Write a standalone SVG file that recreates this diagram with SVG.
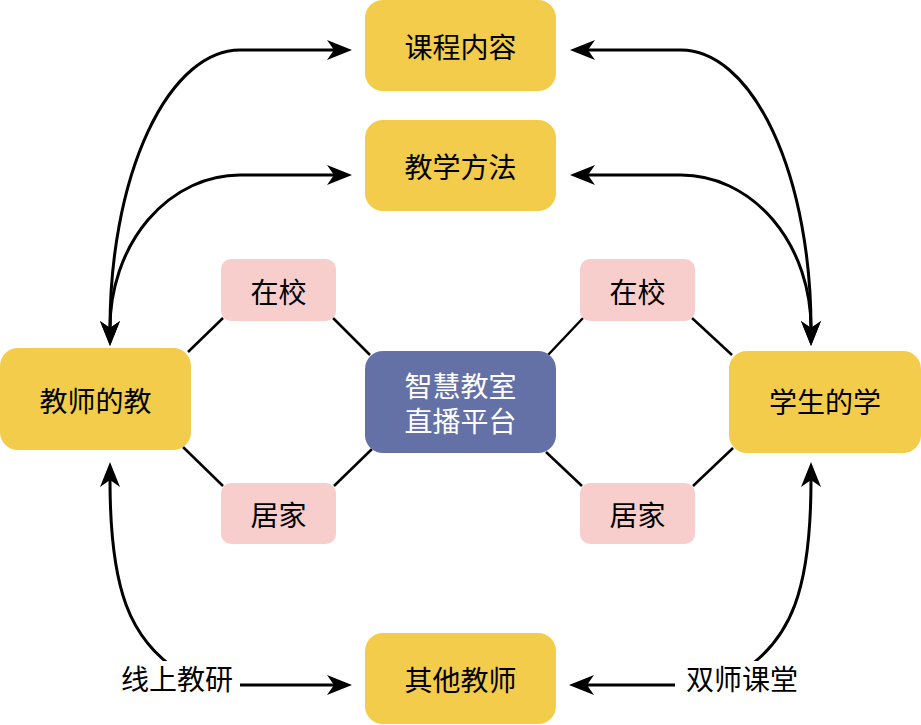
<svg xmlns="http://www.w3.org/2000/svg" width="921" height="725" viewBox="0 0 921 725">
<style>
text{font-family:"Noto Sans CJK SC","Noto Sans",sans-serif;font-size:28px;text-anchor:middle;dominant-baseline:central;fill:#000}
.y{fill:#F2CC4A}
.p{fill:#F8CECC}
.b{fill:#6471A6}
.w{fill:#fff}
.ln{stroke:#000;stroke-width:2.5;fill:none}
.ar{stroke:#000;stroke-width:3;fill:none}
</style>
<defs>
<marker id="ah" markerUnits="userSpaceOnUse" viewBox="0 0 25 20" refX="7" refY="10" markerWidth="25" markerHeight="20" orient="auto-start-reverse">
<path d="M0,0 L25,10 L0,20 L7,10 Z" fill="#000"/>
</marker>
</defs>
<rect width="921" height="725" fill="#fff"/>
<g id="connectors">
<path class="ln" d="M188,352 L223,318"/>
<path class="ln" d="M333,318 L370,355"/>
<path class="ln" d="M583,318 L548,355"/>
<path class="ln" d="M692,318 L732,355"/>
<path class="ln" d="M183,447 L223,486"/>
<path class="ln" d="M334,486 L372,449"/>
<path class="ln" d="M546,452 L582,486"/>
<path class="ln" d="M693,486 L733,448"/>
<path class="ar" d="M110,328 A130,278 0 0 1 240,50 L334,50" marker-start="url(#ah)" marker-end="url(#ah)"/>
<path class="ar" d="M110,328 A130,153 0 0 1 240,175 L334,175" marker-start="url(#ah)" marker-end="url(#ah)"/>
<path class="ar" d="M811,328 A130,278 0 0 0 681,50 L588,50" marker-start="url(#ah)" marker-end="url(#ah)"/>
<path class="ar" d="M811,328 A130,153 0 0 0 681,175 L588,175" marker-start="url(#ah)" marker-end="url(#ah)"/>
<path class="ar" d="M180,672 C130,640 110,590 110,480" marker-end="url(#ah)"/>
<path class="ar" d="M240,685 L334,685" marker-end="url(#ah)"/>
<path class="ar" d="M741,672 C791,640 811,590 811,480" marker-end="url(#ah)"/>
<path class="ar" d="M675,685 L587,685" marker-end="url(#ah)"/>
<g id="label-left"><rect x="114" y="661" width="124" height="36" fill="#fff"/><text x="177" y="678">线上教研</text></g>
<g id="label-right"><rect x="681" y="661" width="122" height="36" fill="#fff"/><text x="742" y="678">双师课堂</text></g>
</g>
<g id="course"><rect class="y" x="365" y="0" width="191" height="91" rx="18"/><text x="460.5" y="46">课程内容</text></g>
<g id="method"><rect class="y" x="365" y="120" width="191" height="91" rx="18"/><text x="460.5" y="166">教学方法</text></g>
<g id="teacher"><rect class="y" x="0" y="348" width="191" height="102" rx="18"/><text x="95.5" y="400">教师的教</text></g>
<g id="platform"><rect class="b" x="365" y="351" width="191" height="102" rx="18"/><text class="w" x="460.5" y="385"><tspan x="460.5" y="385">智慧教室</tspan><tspan x="460.5" y="420">直播平台</tspan></text></g>
<g id="student"><rect class="y" x="729" y="351" width="192" height="102" rx="18"/><text x="825" y="401">学生的学</text></g>
<g id="school-left"><rect class="p" x="221" y="259" width="115" height="62" rx="10"/><text x="278.5" y="291">在校</text></g>
<g id="school-right"><rect class="p" x="580" y="259" width="115" height="62" rx="10"/><text x="637.5" y="291">在校</text></g>
<g id="home-left"><rect class="p" x="221" y="483" width="115" height="61" rx="10"/><text x="278.5" y="514">居家</text></g>
<g id="home-right"><rect class="p" x="580" y="483" width="115" height="61" rx="10"/><text x="637.5" y="514">居家</text></g>
<g id="others"><rect class="y" x="365" y="633" width="191" height="91" rx="18"/><text x="460.5" y="679">其他教师</text></g>
</svg>
